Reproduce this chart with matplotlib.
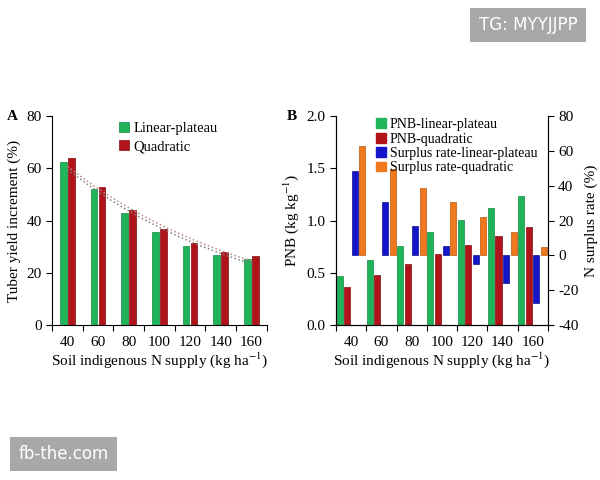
import numpy as np
import matplotlib
matplotlib.use('Agg')
from matplotlib import pyplot as plt
from matplotlib.patches import Patch

plt.rcParams['font.family'] = ['Liberation Serif', 'DejaVu Serif']
plt.rcParams['font.size'] = 11
plt.rcParams['mathtext.fontset'] = 'stix'
plt.rcParams['axes.unicode_minus'] = False

n_supply = [40, 60, 80, 100, 120, 140, 160]

# panel A: tuber yield increment (%)
yield_lp = [62.3, 52.1, 42.9, 35.5, 30.3, 26.9, 25.4]
yield_quad = [63.8, 52.8, 44.2, 36.8, 31.4, 28.1, 26.5]

# panel B: PNB (kg/kg) and N surplus rate (%)
pnb_lp = [0.47, 0.62, 0.76, 0.89, 1.01, 1.125, 1.235]
pnb_quad = [0.36, 0.48, 0.58, 0.68, 0.77, 0.856, 0.943]
surplus_lp = [48.5, 30.6, 16.7, 5.4, -5.0, -15.6, -27.3]
surplus_quad = [62.9, 49.6, 39.0, 30.4, 22.1, 13.7, 4.6]

green = '#1fb45a'
red = '#b0141a'
blue = '#1414c8'
orange = '#f0781e'

fig = plt.figure(figsize=(6, 4.8), dpi=100)
x = np.arange(len(n_supply))

# ---------- panel A ----------
axA = fig.add_axes([0.0867, 0.323, 0.358, 0.435])
axA.bar(x - 0.13, yield_lp, 0.22, color=green, edgecolor='#128a40', linewidth=0.5, label='Linear-plateau')
axA.bar(x + 0.13, yield_quad, 0.22, color=red, edgecolor='#800c10', linewidth=0.5, label='Quadratic')

# exponential trend lines fitted to each series
xs = np.array(n_supply, dtype=float)
for ser, col in [(yield_lp, '#808080'), (yield_quad, '#c08888')]:
    k, b = np.polyfit(xs, np.log(ser), 1)
    xx = np.linspace(xs[0], xs[-1], 100)
    axA.plot((xx - xs[0]) / 20.0, np.exp(b + k * xx), ':', color=col, lw=1.1)

axA.set_xlim(-0.5, 6.5)
axA.set_ylim(0, 80)
axA.set_yticks([0, 20, 40, 60, 80])
axA.set_xticks(np.arange(-0.5, 7, 1))
axA.set_xticklabels([])
axA.set_xticks(x, minor=True)
axA.set_xticklabels([str(v) for v in n_supply], minor=True)
axA.tick_params(axis='x', which='minor', length=0, pad=8)
axA.tick_params(axis='x', which='major', direction='out', length=4)
axA.tick_params(axis='y', direction='out', length=4)
for s in ['top', 'right']:
    axA.spines[s].set_visible(False)
axA.set_ylabel('Tuber yield increment (%)')
axA.set_xlabel('Soil indigenous N supply (kg ha$^{-1}$)', labelpad=1)
axA.legend(loc='upper left', bbox_to_anchor=(0.25, 1.035), frameon=False, fontsize=10.5,
           handlelength=0.7, handleheight=0.7, handletextpad=0.3, labelspacing=0.35)

# ---------- panel B ----------
axB = fig.add_axes([0.56, 0.323, 0.353, 0.435])
axB.bar(x - 0.38, pnb_lp, 0.2, color=green, edgecolor='#128a40', linewidth=0.5)
axB.bar(x - 0.13, pnb_quad, 0.2, color=red, edgecolor='#800c10', linewidth=0.5)
axB.set_xlim(-0.5, 6.5)
axB.set_ylim(0, 2.0)
axB.set_yticks([0, 0.5, 1.0, 1.5, 2.0])
axB.set_yticklabels(['0.0', '0.5', '1.0', '1.5', '2.0'])

axB2 = axB.twinx()
axB2.bar(x + 0.12, surplus_lp, 0.2, color=blue, edgecolor='#0c0c90', linewidth=0.5)
axB2.bar(x + 0.37, surplus_quad, 0.2, color=orange, edgecolor='#b85810', linewidth=0.5)
axB2.set_ylim(-40, 80)
axB2.set_yticks([-40, -20, 0, 20, 40, 60, 80])
axB2.set_xlim(-0.5, 6.5)

axB.set_xticks(np.arange(-0.5, 7, 1))
axB.set_xticklabels([])
axB.set_xticks(x, minor=True)
axB.set_xticklabels([str(v) for v in n_supply], minor=True)
axB.tick_params(axis='x', which='minor', length=0, pad=8)
axB.tick_params(axis='x', which='major', direction='out', length=4)
axB.tick_params(axis='y', direction='out', length=4)
axB2.tick_params(axis='y', direction='out', length=4)
for a in [axB, axB2]:
    a.spines['top'].set_visible(False)
axB.set_ylabel('PNB (kg kg$^{-1}$)')
axB2.set_ylabel('N surplus rate (%)')
axB.set_xlabel('Soil indigenous N supply (kg ha$^{-1}$)', labelpad=1)

handles = [Patch(color=green), Patch(color=red), Patch(color=blue), Patch(color=orange)]
labels = ['PNB-linear-plateau', 'PNB-quadratic', 'Surplus rate-linear-plateau', 'Surplus rate-quadratic']
axB2.legend(handles, labels, loc='upper left', bbox_to_anchor=(0.13, 1.05), frameon=False, fontsize=10,
            handlelength=0.7, handleheight=0.7, handletextpad=0.3, labelspacing=0.1)

fig.text(0.012, 0.75, 'A', fontweight='bold', fontsize=11)
fig.text(0.478, 0.75, 'B', fontweight='bold', fontsize=11)

# watermarks
fig.text(0.88, 0.948, 'TG: MYYJJPP', family='DejaVu Sans', color='white', fontsize=12,
         ha='center', va='center',
         bbox=dict(boxstyle='square,pad=0.5', fc='#a8a8a8', ec='none'))
fig.text(0.106, 0.054, 'fb-the.com', family='DejaVu Sans', color='white', fontsize=12,
         ha='center', va='center',
         bbox=dict(boxstyle='square,pad=0.5', fc='#a8a8a8', ec='none'))

fig.savefig('out.png', dpi=100)
